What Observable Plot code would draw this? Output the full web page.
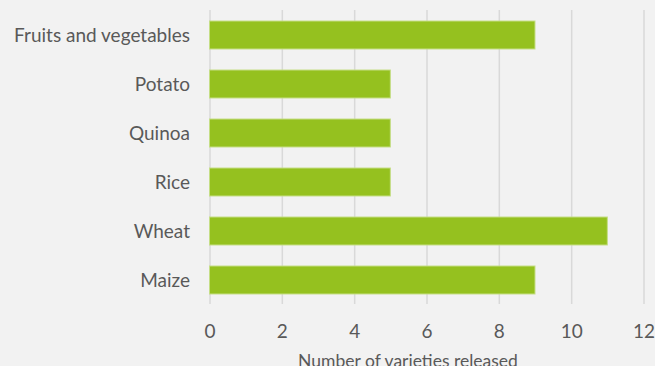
<!DOCTYPE html>
<html>
<head>
<meta charset="utf-8">
<script src="https://cdn.jsdelivr.net/npm/d3@7"></script>
<script src="https://cdn.jsdelivr.net/npm/@observablehq/plot@0.6"></script>
<style>
  html, body { margin: 0; padding: 0; background: #F2F2F2; }
  #chart svg { display: block; }
</style>
</head>
<body>
<div id="chart"></div>
<script>
const categories = ["Fruits and vegetables", "Potato", "Quinoa", "Rice", "Wheat", "Maize"];
const values = [9, 5, 5, 5, 11, 9];
const xTicks = [0, 2, 4, 6, 8, 10, 12];
const xLabel = "Number of varieties released";

const data = categories.map((c, i) => ({category: c, value: values[i]}));

const chart = Plot.plot({
  width: 655,
  height: 366,
  marginLeft: 209.5,
  marginRight: 11.5,
  marginTop: 10,
  marginBottom: 62,
  style: {background: "#F2F2F2", fontFamily: "Lato, sans-serif", fontSize: "19px", color: "#595959"},
  x: {domain: [0, 12], ticks: xTicks},
  y: {domain: categories, paddingInner: 0.43, paddingOuter: 0.215},
  marks: [
    Plot.gridX(xTicks, {stroke: "#D9D9D9", strokeOpacity: 1, strokeWidth: 1.5}),
    Plot.axisX(xTicks, {tickSize: 0, tickPadding: 20, label: null, fontSize: 19, fill: "#595959"}),
    Plot.axisY({tickSize: 0, tickPadding: 20, label: null, fontSize: 19, fill: "#595959"}),
    Plot.barX(data, {x: "value", y: "category", fill: "#95C11F", stroke: "#C5DE86", strokeWidth: 1}),
    Plot.text([xLabel], {frameAnchor: "bottom", lineAnchor: "top", dy: 50, dx: -19, fontSize: 17.5, fill: "#595959", text: d => d})
  ]
});
document.getElementById("chart").appendChild(chart);
</script>
</body>
</html>
